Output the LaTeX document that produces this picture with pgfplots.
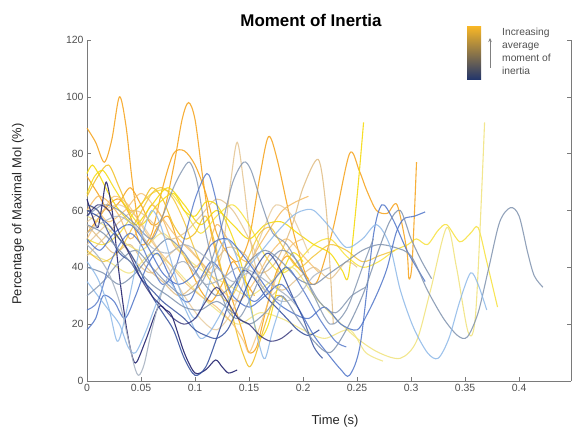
\documentclass[border=0pt]{standalone}
\usepackage{fontspec}
\setmainfont{Liberation Sans}
\usepackage{pgfplots}
\pgfplotsset{compat=1.18}
\usetikzlibrary{arrows.meta}
\definecolor{navy}{HTML}{23236E}
\definecolor{dblue}{HTML}{2E4A9A}
\definecolor{mblue}{HTML}{4F74C8}
\definecolor{lblue}{HTML}{8DB8E8}
\definecolor{gblue}{HTML}{7F92AE}
\definecolor{lgrey}{HTML}{A9B4C2}
\definecolor{tan}{HTML}{E2C08A}
\definecolor{pyel}{HTML}{F0E27A}
\definecolor{yel}{HTML}{F5DA10}
\definecolor{gold}{HTML}{F2C230}
\definecolor{orng}{HTML}{F6A623}
\definecolor{lorng}{HTML}{F5BE6A}
\definecolor{axgrey}{HTML}{7A7A7A}
\definecolor{txgrey}{HTML}{505050}
\begin{document}
\begin{tikzpicture}
\path[use as bounding box] (0,0) rectangle (573bp,433bp);
\begin{axis}[
  at={(87bp,52bp)}, anchor=south west,
  scale only axis, width=484bp, height=341bp,
  xmin=0, xmax=0.448, ymin=0, ymax=120,
  axis x line*=bottom, axis y line*=left,
  axis line style={axgrey, line width=0.8pt},
  xtick={0,0.05,0.1,0.15,0.2,0.25,0.3,0.35,0.4},
  xticklabels={0,0.05,0.1,0.15,0.2,0.25,0.3,0.35,0.4},
  ytick={0,20,40,60,80,100,120},
  tick align=inside, major tick length=4bp,
  tick style={axgrey, line width=0.6pt},
  ticklabel style={font=\fontsize{10.5}{12}\selectfont, text=txgrey},
  /pgf/number format/assume math mode=true,
  every axis plot/.append style={smooth, tension=0.5, line width=1.1pt, no markers},
  clip=false,
]
% warm curves
\addplot[orng, opacity=0.9] coordinates {(0,89)(0.008,84)(0.016,77)(0.023,85)(0.03,100)(0.036,90)(0.042,70)(0.048,55)(0.056,48)(0.065,54)(0.075,58)(0.085,48)(0.095,40)(0.105,32)(0.115,28)(0.125,34)(0.135,42)(0.145,36)(0.155,30)};
\addplot[orng, opacity=0.9] coordinates {(0,72)(0.01,66)(0.02,60)(0.03,63)(0.04,68)(0.05,62)(0.06,55)(0.07,58)(0.08,75)(0.088,92)(0.094,98)(0.1,92)(0.107,72)(0.115,52)(0.125,38)(0.135,28)(0.145,16)(0.15,10)(0.157,12)(0.165,24)(0.175,38)(0.185,44)(0.195,40)(0.205,36)};
\addplot[orng, opacity=0.9] coordinates {(0,52)(0.01,57)(0.02,62)(0.03,64)(0.04,58)(0.05,48)(0.06,52)(0.07,68)(0.08,80)(0.09,81)(0.1,76)(0.11,66)(0.12,52)(0.13,45)(0.14,42)(0.15,50)(0.16,72)(0.168,86)(0.176,78)(0.19,54)(0.203,37)(0.213,35)(0.228,54)(0.243,80)(0.252,74)(0.259,67)(0.268,60)(0.278,59)(0.287,62)(0.296,46)(0.298,36)(0.301,42)(0.305,77)};
\addplot[lorng, opacity=0.9] coordinates {(0,60)(0.01,65)(0.02,63)(0.03,58)(0.04,50)(0.05,55)(0.06,62)(0.07,57)(0.08,48)(0.09,44)(0.1,40)(0.11,45)(0.12,55)(0.13,50)(0.14,44)(0.15,42)(0.16,48)(0.17,54)(0.181,60)(0.193,63)(0.205,65)};
\addplot[tan, opacity=0.9] coordinates {(0,55)(0.012,50)(0.025,45)(0.04,48)(0.055,40)(0.07,35)(0.085,30)(0.1,34)(0.115,40)(0.13,47)(0.145,45)(0.16,38)(0.175,42)(0.19,55)(0.2,68)(0.214,78)(0.221,62)(0.225,40)(0.228,20)};
\addplot[tan, opacity=0.8] coordinates {(0,48)(0.01,52)(0.02,55)(0.03,50)(0.045,42)(0.06,38)(0.075,44)(0.09,48)(0.105,42)(0.115,38)(0.125,45)(0.133,70)(0.139,84)(0.145,70)(0.152,48)(0.16,35)(0.17,30)(0.18,34)};
\addplot[yel, opacity=0.9] coordinates {(0,73)(0.005,76)(0.012,72)(0.02,66)(0.03,60)(0.045,55)(0.06,62)(0.075,68)(0.09,62)(0.105,55)(0.12,60)(0.135,55)(0.15,50)(0.165,55)(0.18,56)(0.195,52)(0.21,48)(0.225,45)(0.236,39)(0.242,37)(0.25,65)(0.256,91)};
\addplot[yel, opacity=0.7] coordinates {(0,50)(0.015,48)(0.03,52)(0.045,60)(0.06,66)(0.075,67)(0.09,60)(0.105,52)(0.12,58)(0.135,62)(0.15,55)(0.165,44)(0.18,38)(0.195,42)(0.21,48)(0.225,50)(0.24,44)(0.255,40)(0.27,42)(0.285,46)(0.297,48)(0.305,50)(0.315,48)(0.325,53)(0.333,55)(0.345,49)(0.355,52)(0.362,54)(0.37,42)(0.38,26)};
\addplot[pyel, opacity=0.85] coordinates {(0,58)(0.015,55)(0.03,50)(0.05,46)(0.07,52)(0.09,44)(0.11,38)(0.13,34)(0.15,30)(0.17,35)(0.19,40)(0.21,30)(0.23,22)(0.25,15)(0.27,10)(0.29,8)(0.305,14)(0.318,32)(0.333,54)(0.342,40)(0.353,17)(0.36,25)(0.368,91)};
\addplot[pyel, opacity=0.8] coordinates {(0,45)(0.02,42)(0.04,38)(0.06,45)(0.08,40)(0.1,32)(0.12,25)(0.14,20)(0.16,24)(0.18,22)(0.2,18)(0.22,15)(0.243,18)(0.258,10)(0.274,7)};
\addplot[gold, opacity=0.9] coordinates {(0,65)(0.01,72)(0.02,76)(0.03,68)(0.04,60)(0.05,62)(0.06,68)(0.07,64)(0.08,55)(0.09,50)(0.1,52)(0.11,58)(0.12,46)(0.13,30)(0.14,15)(0.145,9)(0.15,5)(0.155,8)(0.165,20)(0.175,30)(0.185,28)};
\addplot[lorng, opacity=0.8] coordinates {(0,62)(0.01,60)(0.02,56)(0.035,60)(0.05,66)(0.065,60)(0.08,52)(0.095,46)(0.11,40)(0.125,32)(0.14,28)(0.155,35)(0.17,45)(0.185,50)(0.2,44)(0.215,38)};
\addplot[tan, opacity=0.7] coordinates {(0,56)(0.015,60)(0.03,62)(0.045,58)(0.06,50)(0.075,40)(0.09,30)(0.105,22)(0.12,18)(0.135,25)(0.15,40)(0.165,55)(0.175,62)(0.19,58)(0.205,45)};
\addplot[tan, opacity=0.8] coordinates {(0,44)(0.015,50)(0.03,56)(0.045,60)(0.06,56)(0.075,50)(0.09,52)(0.105,58)(0.12,64)(0.135,60)(0.15,50)(0.165,38)(0.18,32)(0.195,36)(0.21,40)(0.225,36)(0.24,42)(0.25,40)};
\addplot[yel, opacity=0.85] coordinates {(0,66)(0.007,72)(0.015,74)(0.025,68)(0.035,62)(0.05,55)(0.065,62)(0.08,66)(0.09,60)(0.1,58)(0.11,63)(0.12,62)(0.13,55)(0.14,45)(0.15,30)(0.155,20)(0.16,15)(0.168,20)(0.178,35)(0.19,45)(0.2,42)};
\addplot[lorng, opacity=0.75] coordinates {(0,50)(0.012,58)(0.025,65)(0.038,62)(0.05,55)(0.062,48)(0.075,42)(0.09,35)(0.105,30)(0.12,26)(0.135,20)(0.145,14)(0.15,10)(0.157,16)(0.168,28)(0.18,42)(0.19,48)(0.2,50)};
\addplot[gold, opacity=0.8] coordinates {(0,46)(0.015,42)(0.03,46)(0.045,56)(0.06,66)(0.07,68)(0.08,64)(0.09,56)(0.1,46)(0.11,38)(0.12,32)(0.13,28)(0.14,34)(0.15,44)(0.16,52)(0.17,54)(0.18,48)(0.195,40)(0.21,44)(0.225,48)(0.24,46)(0.255,42)(0.27,44)(0.285,46)};
% cool curves
\addplot[navy, opacity=0.9] coordinates {(0,64)(0.005,58)(0.01,54)(0.014,62)(0.018,70)(0.024,58)(0.029,40)(0.036,20)(0.042,8.5)(0.046,6.7)(0.055,15)(0.066,26)(0.073,25)(0.079,22.6)(0.09,10)(0.1,2.8)(0.11,4)(0.119,7.4)(0.125,5)(0.131,2.8)(0.139,3.9)};
\addplot[dblue, opacity=0.85] coordinates {(0,60)(0.01,58)(0.02,55)(0.03,50)(0.04,45)(0.05,38)(0.06,30)(0.07,24)(0.08,18)(0.09,8)(0.1,2)(0.11,5)(0.12,15)(0.13,26)(0.14,36)(0.146,39)(0.155,36)(0.165,30)(0.175,26)(0.185,22)(0.195,18)(0.205,16)(0.215,18)};
\addplot[mblue, opacity=0.85] coordinates {(0,18)(0.008,22)(0.015,30)(0.025,28)(0.035,22)(0.045,30)(0.055,40)(0.065,45)(0.075,38)(0.085,30)(0.095,28)(0.105,36)(0.115,42)(0.125,38)(0.135,30)(0.15,26)(0.165,30)(0.18,34)(0.195,26)(0.21,16)(0.222,10)(0.235,4)(0.243,2)(0.253,13)(0.265,51)(0.273,62)(0.283,57)(0.296,46)(0.305,40)(0.313,35)};
\addplot[gblue, opacity=0.85] coordinates {(0,40)(0.015,38)(0.03,34)(0.045,38)(0.06,45)(0.075,50)(0.09,45)(0.105,36)(0.12,30)(0.135,34)(0.15,42)(0.165,46)(0.18,42)(0.195,36)(0.21,34)(0.225,38)(0.24,42)(0.255,46)(0.27,48)(0.285,47)(0.3,44)(0.315,32)(0.33,22)(0.343,16)(0.352,15.5)(0.362,24)(0.372,40)(0.382,56)(0.392,61)(0.4,58)(0.408,45)(0.414,37)(0.422,33)};
\addplot[lblue, opacity=0.85] coordinates {(0,35)(0.01,30)(0.02,25)(0.03,20)(0.038,12)(0.045,10)(0.055,18)(0.065,28)(0.075,35)(0.085,30)(0.095,22)(0.105,15)(0.115,18)(0.13,28)(0.145,38)(0.16,45)(0.175,52)(0.19,58)(0.2,60)(0.21,60)(0.225,54)(0.24,47)(0.255,50)(0.268,55)(0.28,48)(0.29,32)(0.302,19)(0.315,10)(0.325,8)(0.335,15)(0.345,28)(0.355,38)(0.362,34)(0.37,25)};
\addplot[mblue, opacity=0.85] coordinates {(0,50)(0.012,46)(0.025,52)(0.04,55)(0.055,48)(0.07,38)(0.085,34)(0.1,38)(0.115,48)(0.13,50)(0.145,44)(0.16,36)(0.175,28)(0.19,24)(0.205,22)(0.22,26)(0.235,20)(0.25,18)(0.26,24)(0.27,32)(0.278,40)(0.286,52)(0.293,57)(0.303,58)(0.313,59.5)};
\addplot[gblue, opacity=0.8] coordinates {(0,58)(0.015,62)(0.03,60)(0.045,55)(0.06,50)(0.07,58)(0.08,68)(0.088,74)(0.095,77)(0.102,70)(0.11,52)(0.12,36)(0.13,25)(0.14,22)(0.15,28)(0.165,40)(0.18,46)(0.195,42)(0.21,30)(0.225,20)(0.24,25)(0.255,40)(0.265,50)};
\addplot[gblue, opacity=0.8] coordinates {(0,30)(0.015,35)(0.03,42)(0.045,46)(0.06,40)(0.075,34)(0.09,30)(0.105,34)(0.115,42)(0.125,55)(0.135,70)(0.145,77)(0.152,74)(0.162,62)(0.172,52)(0.185,48)(0.2,38)(0.215,28)(0.23,24)(0.245,30)(0.258,33)};
\addplot[mblue, opacity=0.8] coordinates {(0,25)(0.01,28)(0.02,40)(0.03,48)(0.04,52)(0.05,48)(0.06,40)(0.07,34)(0.08,38)(0.09,50)(0.1,64)(0.111,73)(0.118,66)(0.128,48)(0.14,34)(0.155,28)(0.17,34)(0.185,40)(0.2,32)(0.215,22)(0.23,14)(0.24,12)};
\addplot[lblue, opacity=0.85] coordinates {(0,42)(0.01,36)(0.02,26)(0.028,14)(0.035,22)(0.045,40)(0.052,52)(0.06,60)(0.068,55)(0.078,42)(0.088,30)(0.1,22)(0.11,30)(0.12,44)(0.13,50)(0.14,42)(0.15,28)(0.16,12)(0.165,8)(0.172,18)(0.182,30)};
\addplot[lgrey, opacity=0.9] coordinates {(0,48)(0.01,44)(0.02,38)(0.03,28)(0.038,15)(0.044,5)(0.048,2)(0.053,6)(0.06,18)(0.07,32)(0.08,40)(0.09,42)(0.1,38)(0.11,34)(0.125,36)(0.14,40)(0.155,38)(0.17,34)(0.185,30)(0.195,26)};
\addplot[dblue, opacity=0.8] coordinates {(0,62)(0.01,60)(0.02,52)(0.03,45)(0.04,42)(0.05,36)(0.06,32)(0.07,28)(0.08,25)(0.09,22)(0.1,18)(0.11,16)(0.12,15)(0.13,18)(0.14,26)(0.15,35)(0.16,42)(0.168,45)(0.178,40)(0.19,30)(0.2,22)(0.21,12)(0.218,8)};
\addplot[gblue, opacity=0.85] coordinates {(0,55)(0.015,52)(0.03,46)(0.045,40)(0.06,34)(0.075,30)(0.09,26)(0.105,25)(0.12,28)(0.135,24)(0.15,20)(0.165,24)(0.18,30)(0.195,22)(0.21,14)(0.225,10)(0.24,18)(0.255,30)(0.268,44)(0.28,56)(0.29,60)(0.3,50)(0.31,42)(0.319,36)};
\addplot[lgrey, opacity=0.8] coordinates {(0,52)(0.015,56)(0.03,58)(0.045,54)(0.06,47)(0.075,45)(0.09,48)(0.105,45)(0.12,40)(0.135,35)(0.15,38)(0.165,32)(0.18,28)(0.195,30)(0.21,37)(0.225,40)};
\addplot[navy, opacity=0.75] coordinates {(0,58)(0.01,62)(0.02,60)(0.03,52)(0.04,44)(0.05,36)(0.06,30)(0.07,26)(0.08,22)(0.09,20)(0.1,22)(0.11,28)(0.12,33)(0.13,28)(0.14,22)(0.15,20)(0.16,16)(0.17,14)(0.18,15)(0.19,18)};
\end{axis}
\begin{axis}[
  at={(87bp,52bp)}, anchor=south west,
  scale only axis, width=484bp, height=341bp,
  xmin=0, xmax=0.448, ymin=0, ymax=120,
  axis y line*=right, axis x line=none,
  axis line style={axgrey, line width=0.8pt},
  ytick={0,20,40,60,80,100,120}, yticklabels={},
  tick align=inside, major tick length=4bp,
  tick style={axgrey, line width=0.6pt},
]
\end{axis}
\node[font=\bfseries\fontsize{17}{20}\selectfont] at (311bp,413bp) {Moment of Inertia};
\node[rotate=90, font=\fontsize{13}{15}\selectfont, text=black!85] at (18bp,219bp) {Percentage of Maximal MoI (\%)};
\node[font=\fontsize{13}{15}\selectfont, text=black!85] at (335bp,12bp) {Time (s)};
\shade[top color=gold!80!orange, bottom color=dblue!70!black] (467bp,353bp) rectangle (481bp,406bp);
\draw[-{Stealth[length=4pt,width=3.5pt]}, gray, line width=0.7pt] (490bp,365bp) -- (490bp,395bp);
\node[anchor=north west, align=left, inner sep=0pt, font=\fontsize{10.3}{13}\selectfont, text=txgrey] at (502bp,405bp) {Increasing\\average\\moment of\\inertia};
\end{tikzpicture}
\end{document}
